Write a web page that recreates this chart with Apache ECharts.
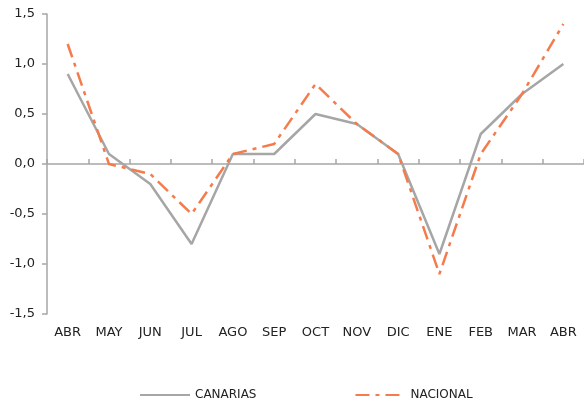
<!DOCTYPE html>
<html>
<head>
<meta charset="utf-8">
<script src="https://cdn.jsdelivr.net/npm/echarts@6/dist/echarts.min.js"></script>
<style>
  html, body { margin: 0; padding: 0; background: #fff; }
  #chart { width: 584px; height: 405px; }
</style>
</head>
<body>
<div id="chart"></div>
<script>
const months = ['ABR', 'MAY', 'JUN', 'JUL', 'AGO', 'SEP', 'OCT', 'NOV', 'DIC', 'ENE', 'FEB', 'MAR', 'ABR'];
const canarias = [0.9, 0.1, -0.2, -0.8, 0.1, 0.1, 0.5, 0.4, 0.1, -0.9, 0.3, 0.7, 1.0];
const nacional = [1.2, 0.0, -0.1, -0.5, 0.1, 0.2, 0.8, 0.4, 0.1, -1.1, 0.1, 0.7, 1.4];

const axisColor = '#a6a6a6';
const textColor = '#222';
const font = 'DejaVu Sans';

const chart = echarts.init(document.getElementById('chart'));

chart.setOption({
  animation: false,
  grid: { left: 47, right: 0, top: 14, bottom: 91 },
  legend: {
    left: 134,
    top: 384,
    itemWidth: 50,
    itemHeight: 14,
    itemGap: 98,
    itemStyle: { opacity: 0 },
    textStyle: { color: textColor, fontFamily: font, fontSize: 12 },
    data: ['CANARIAS', 'NACIONAL']
  },
  xAxis: [
    {
      type: 'category',
      data: months,
      axisLine: { onZero: true, lineStyle: { color: axisColor, width: 1.5 } },
      axisTick: { show: true, inside: true, length: 5, lineStyle: { color: axisColor, width: 1.5 } },
      axisLabel: { show: false },
      splitLine: { show: false }
    },
    {
      type: 'category',
      data: months,
      position: 'bottom',
      axisLine: { show: false, onZero: false },
      axisTick: { show: false },
      axisLabel: { color: textColor, fontFamily: font, fontSize: 13, margin: 12 },
      splitLine: { show: false }
    }
  ],
  yAxis: {
    type: 'value',
    min: -1.5,
    max: 1.5,
    interval: 0.5,
    axisLine: { show: true, lineStyle: { color: axisColor, width: 1.5 } },
    axisTick: { show: true, length: 5, lineStyle: { color: axisColor, width: 1.5 } },
    axisLabel: {
      color: textColor,
      fontFamily: font,
      fontSize: 13,
      margin: 12,
      formatter: v => v.toFixed(1).replace('.', ',')
    },
    splitLine: { show: false }
  },
  series: [
    {
      name: 'CANARIAS',
      type: 'line',
      data: canarias,
      xAxisIndex: 0,
      symbol: 'none',
      lineStyle: { color: '#a6a6a6', width: 2.5 },
      itemStyle: { color: '#a6a6a6' }
    },
    {
      name: 'NACIONAL',
      type: 'line',
      data: nacional,
      xAxisIndex: 0,
      symbol: 'none',
      lineStyle: { color: '#f47c4c', width: 2.5, type: [14, 6, 4, 6] },
      itemStyle: { color: '#f47c4c' }
    }
  ]
});
</script>
</body>
</html>
